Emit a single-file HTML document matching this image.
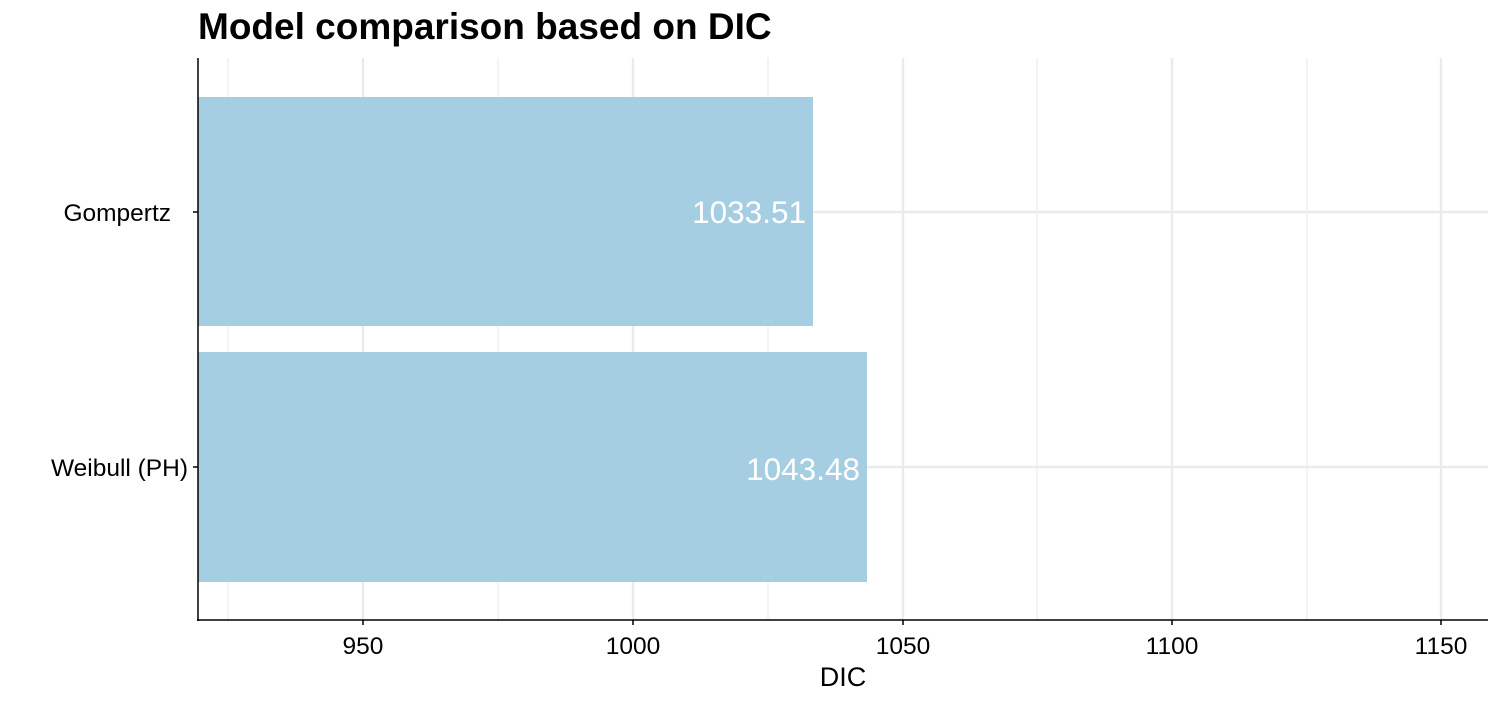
<!DOCTYPE html>
<html><head><meta charset="utf-8"><style>body{margin:0;background:#fff}</style></head><body>
<svg width="1500" height="700" xmlns="http://www.w3.org/2000/svg" font-family="Liberation Sans, sans-serif">
<rect width="1500" height="700" fill="#fff"/>
<g stroke="#ebebeb" stroke-width="1.2">
<line x1="228" y1="58" x2="228" y2="620"/><line x1="498" y1="58" x2="498" y2="620"/>
<line x1="768" y1="58" x2="768" y2="620"/><line x1="1037" y1="58" x2="1037" y2="620"/>
<line x1="1307" y1="58" x2="1307" y2="620"/>
</g>
<g stroke="#ebebeb" stroke-width="2.4">
<line x1="363" y1="58" x2="363" y2="620"/><line x1="633" y1="58" x2="633" y2="620"/>
<line x1="903" y1="58" x2="903" y2="620"/><line x1="1172" y1="58" x2="1172" y2="620"/>
<line x1="1441" y1="58" x2="1441" y2="620"/>
<line x1="198" y1="212" x2="1488" y2="212"/><line x1="198" y1="467" x2="1488" y2="467"/>
</g>
<rect x="198" y="97" width="615" height="229" fill="#a6cee3"/>
<rect x="198" y="352" width="669" height="230" fill="#a6cee3"/>
<text x="806" y="223" font-size="31.5" fill="#fff" text-anchor="end">1033.51</text>
<text x="860" y="480" font-size="31.5" fill="#fff" text-anchor="end">1043.48</text>
<g stroke="#000" stroke-width="1.5">
<line x1="198" y1="58" x2="198" y2="621"/><line x1="197" y1="620" x2="1488" y2="620"/>
<line x1="193" y1="212" x2="198" y2="212"/><line x1="193" y1="467" x2="198" y2="467"/>
<line x1="363" y1="620" x2="363" y2="625"/><line x1="633" y1="620" x2="633" y2="625"/>
<line x1="903" y1="620" x2="903" y2="625"/><line x1="1172" y1="620" x2="1172" y2="625"/>
<line x1="1441" y1="620" x2="1441" y2="625"/>
</g>
<g font-size="24.5" fill="#000" text-anchor="middle">
<text x="363" y="654">950</text><text x="633" y="654">1000</text><text x="903" y="654">1050</text>
<text x="1172" y="654">1100</text><text x="1441" y="654">1150</text>
</g>
<g font-size="24.5" fill="#000" text-anchor="end">
<text x="171" y="221">Gompertz</text><text x="188" y="476">Weibull (PH)</text>
</g>
<text x="843" y="686" font-size="27" text-anchor="middle">DIC</text>
<text x="198" y="39" font-size="37" font-weight="bold">Model comparison based on DIC</text>
</svg>
</body></html>
